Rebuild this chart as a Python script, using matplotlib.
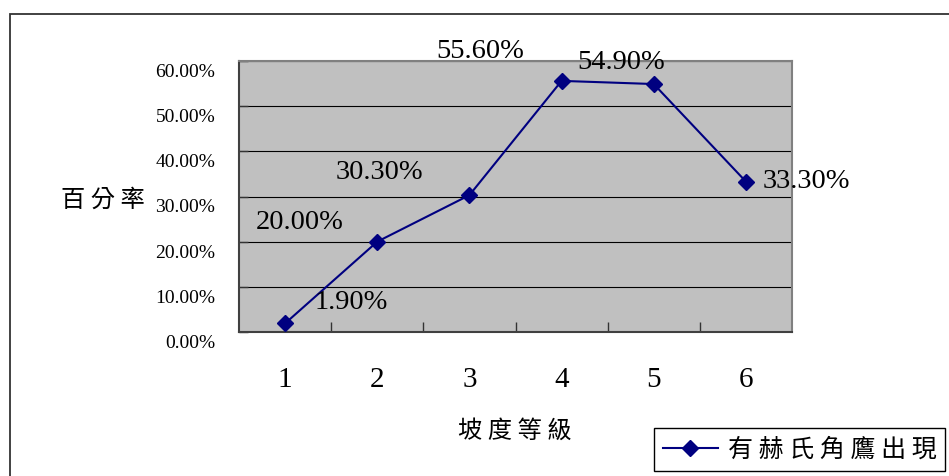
import matplotlib
matplotlib.use("Agg")
import matplotlib.pyplot as plt
from matplotlib.patches import Rectangle
from matplotlib.ticker import FixedLocator, NullFormatter
from matplotlib.transforms import ScaledTranslation

grades = [1, 2, 3, 4, 5, 6]
percent = [1.9, 20.0, 30.3, 55.6, 54.9, 33.3]
ytick_vals = [0, 10, 20, 30, 40, 50, 60]
ytick_labels = ["%.2f%%" % v for v in ytick_vals]
point_labels = ["%.2f%%" % v for v in percent]
series_name = "有 赫 氏 角 鷹 出 現"
xlabel_text = "坡 度 等 級"
ylabel_text = "百 分 率"

# hand placed offsets (pixels) for the value labels
label_offsets = [(66, 21), (-78, 19), (-90, 23), (-81, 29), (-33, 22), (60, 0)]

serif = "Liberation Serif"
cjk = ["Noto Sans CJK TC", "DejaVu Sans"]
W, H = 949, 476

fig = plt.figure(figsize=(W / 100, H / 100), dpi=100)
fig.patch.set_facecolor("white")

# outer chart frame, runs off the right and bottom edges
fig.patches.append(Rectangle((10 / W, -0.1), 1.2, 1 - 14 / H + 0.1,
                             transform=fig.transFigure, fill=False,
                             edgecolor="#333333", linewidth=1.3))

ax = fig.add_axes([239 / W, 1 - 332 / H, 553 / W, 271 / H])
ax.set_facecolor("#C0C0C0")
ax.set_xlim(0.5, 6.5)
ax.set_ylim(0, 60)

ax.plot(grades, percent, color="#000080", linewidth=1.5, marker="D",
        markersize=8.5, markerfacecolor="#000080", markeredgecolor="#000080",
        label=series_name, zorder=3, clip_on=False)

for x, y, txt, (dx, dy) in zip(grades, percent, point_labels, label_offsets):
    ax.annotate(txt, (x, y), xytext=(dx, dy), textcoords="offset pixels",
                ha="center", va="center", fontsize=20.5, family=serif,
                color="#000000", annotation_clip=False, zorder=4)

ax.set_yticks(ytick_vals)
ax.set_yticklabels(ytick_labels, fontsize=14, family=serif, va="top")
ax.yaxis.grid(True, color="#000000", linewidth=0.8)
ax.set_axisbelow(True)
ax.tick_params(axis="y", direction="in", length=6.5, width=1, pad=17,
               color="#333333")
# percent labels sit a little below their gridlines
shift = ScaledTranslation(0, -3 / 100, fig.dpi_scale_trans)
for tick in ax.yaxis.get_major_ticks():
    tick.label1.set_transform(tick.label1.get_transform() + shift)

ax.set_xticks(grades)
ax.set_xticklabels([str(g) for g in grades], fontsize=21, family=serif)
ax.xaxis.set_minor_locator(FixedLocator([1.5, 2.5, 3.5, 4.5, 5.5]))
ax.xaxis.set_minor_formatter(NullFormatter())
ax.tick_params(axis="x", which="major", length=0, pad=25)
ax.tick_params(axis="x", which="minor", direction="in", length=7, width=1,
               color="#333333")

for side in ("top", "right"):
    ax.spines[side].set_color("#808080")
    ax.spines[side].set_linewidth(1.5)
for side in ("left", "bottom"):
    ax.spines[side].set_color("#404040")
    ax.spines[side].set_linewidth(1.5)

fig.text(103 / W, 1 - 200 / H, ylabel_text, family=cjk, fontsize=17.5,
         ha="center", va="center")
fig.text(515 / W, 1 - 431 / H, xlabel_text, family=cjk, fontsize=17.5,
         ha="center", va="center")

leg = fig.legend(loc="center", bbox_to_anchor=(799.5 / W, 1 - 449.5 / H),
                 prop={"family": cjk, "size": 18}, frameon=True,
                 fancybox=False, edgecolor="#000000", framealpha=1,
                 handlelength=2.2, handletextpad=0.4, borderpad=0.35)
leg.get_frame().set_linewidth(1.0)

fig.savefig("out.png", dpi=100)
